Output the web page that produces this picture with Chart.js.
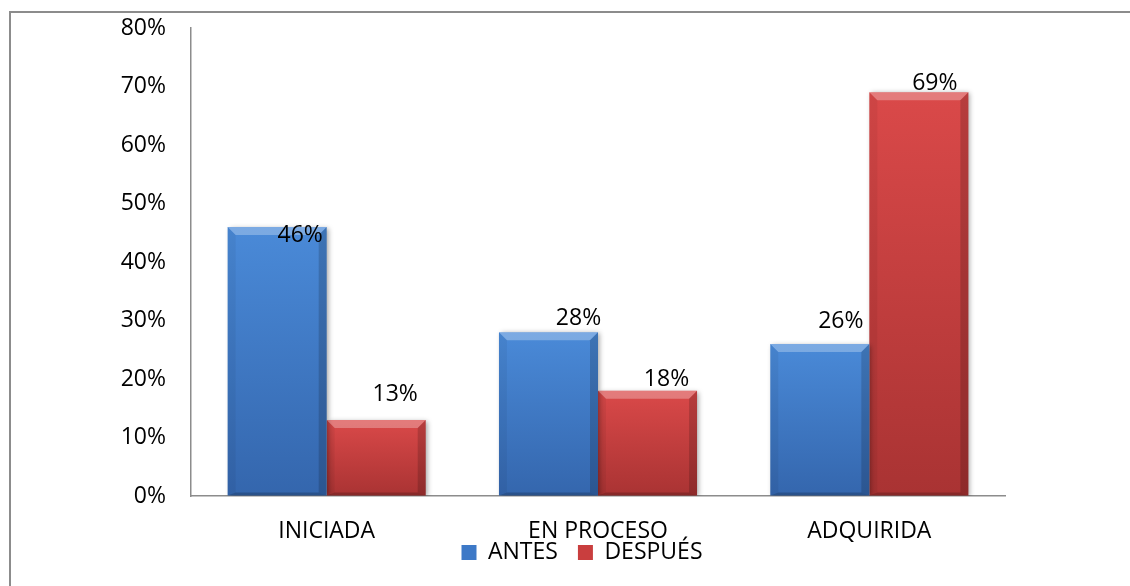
<!DOCTYPE html>
<html>
<head>
<meta charset="utf-8">
<script src="https://cdn.jsdelivr.net/npm/chart.js@4"></script>
<style>
  html, body { margin: 0; padding: 0; background: #fff; overflow: hidden; }
  #marco { position: absolute; left: 9px; top: 11px; width: 1300px; height: 800px;
           border-top: 2px solid #8c8c8c; border-left: 2px solid #8c8c8c; }
  #caja { position: absolute; left: 0; top: 0; width: 1130px; height: 586px; }
</style>
</head>
<body>
<div id="marco"></div>
<div id="caja"><canvas id="barChart"></canvas></div>
<script>
// Datos del gráfico
const categorias = ['INICIADA', 'EN PROCESO', 'ADQUIRIDA'];
const antes = [46, 28, 26];
const despues = [13, 18, 69];
const yMax = 80;
const yPaso = 10;

// colores: [arriba, abajo] del degradado, y color sólido para la leyenda
const azul = ['#4a8ad8', '#3466ad'];
const rojo = ['#da4949', '#a93333'];
const solidos = ['#3d79c7', '#c93e3e'];

// posición manual de las etiquetas (como en Excel): [dx, dy] respecto al tope de la barra
const ajusteEtiquetas = [
  [[23, 15], [30, -7], [21, -16]],
  [[19, -19], [19, -5], [16, -2]]
];

const fuente = "'Open Sans', 'Noto Sans', sans-serif";
const tam = 23;

function relleno(colores) {
  return (c) => {
    const esc = c.chart.scales.y;
    if (c.type !== 'data' || !esc || c.raw == null) return colores[0];
    const arriba = esc.getPixelForValue(c.raw);
    const base = esc.getPixelForValue(0);
    if (!isFinite(arriba) || !isFinite(base) || arriba === base) return colores[0];
    const g = c.chart.ctx.createLinearGradient(0, arriba, 0, base);
    g.addColorStop(0, colores[0]);
    g.addColorStop(1, colores[1]);
    return g;
  };
}

function poligono(c, pts, color) {
  c.beginPath();
  c.moveTo(pts[0][0], pts[0][1]);
  for (let i = 1; i < pts.length; i++) c.lineTo(pts[i][0], pts[i][1]);
  c.closePath();
  c.fillStyle = color;
  c.fill();
}

// sombra + bisel tipo Excel
const bisel = {
  id: 'bisel',
  beforeDatasetsDraw(chart) {
    const c = chart.ctx;
    c.save();
    c.shadowColor = 'rgba(0,0,0,0.35)';
    c.shadowBlur = 5;
    c.shadowOffsetX = 2;
    c.shadowOffsetY = 1;
  },
  afterDatasetsDraw(chart) {
    const c = chart.ctx;
    c.restore();
    chart.data.datasets.forEach((ds, i) => {
      chart.getDatasetMeta(i).data.forEach((bar) => {
        const { x, y, base, width } = bar.getProps(['x', 'y', 'base', 'width'], true);
        const l = x - width / 2, r = x + width / 2, b = 8;
        c.save();
        poligono(c, [[l, y], [r, y], [r - b, y + b], [l + b, y + b]], 'rgba(255,255,255,0.28)');
        poligono(c, [[l, y], [l + b, y + b], [l + b, base - 3], [l, base]], 'rgba(0,0,0,0.05)');
        poligono(c, [[r, y], [r, base], [r - b, base - 3], [r - b, y + b]], 'rgba(0,0,0,0.16)');
        poligono(c, [[l, base], [l + b, base - 3], [r - b, base - 3], [r, base]], 'rgba(0,0,0,0.2)');
        c.restore();
      });
    });
  }
};

// etiquetas de valor
const etiquetas = {
  id: 'etiquetas',
  afterDatasetsDraw(chart) {
    const c = chart.ctx;
    c.save();
    c.font = tam + 'px ' + fuente;
    c.fillStyle = '#000';
    c.textAlign = 'center';
    c.textBaseline = 'alphabetic';
    chart.data.datasets.forEach((ds, i) => {
      chart.getDatasetMeta(i).data.forEach((bar, j) => {
        const aj = ajusteEtiquetas[i][j];
        c.fillText(ds.data[j] + '%', bar.x + aj[0], bar.y + aj[1]);
      });
    });
    c.restore();
  }
};

// la leyenda de Excel queda montada sobre las etiquetas del eje X
const moverLeyenda = {
  id: 'moverLeyenda',
  afterLayout(chart) {
    const lg = chart.legend;
    if (!lg) return;
    const dx = -16, dy = -23;
    lg.left += dx; lg.right += dx;
    lg.top += dy;
    lg.bottom = lg.top + 60;
  }
};

const ctx1 = document.getElementById('barChart').getContext('2d');
new Chart(ctx1, {
  type: 'bar',
  data: {
    labels: categorias,
    datasets: [
      { label: 'ANTES', data: antes, backgroundColor: relleno(azul) },
      { label: 'DESPUÉS', data: despues, backgroundColor: relleno(rojo) }
    ]
  },
  options: {
    responsive: true,
    maintainAspectRatio: false,
    animation: false,
    barPercentage: 1,
    categoryPercentage: 0.73,
    layout: { padding: { top: 28, right: 125, left: 0, bottom: 12 } },
    scales: {
      x: {
        grid: { display: true, drawOnChartArea: false, drawTicks: false },
        border: { display: true, color: '#8c8c8c', width: 1.5 },
        ticks: { color: '#000', font: { family: fuente, size: tam }, padding: 22, maxRotation: 0 },
        afterFit(s) { s.height = 48; }
      },
      y: {
        min: 0,
        max: yMax,
        grid: { display: true, drawOnChartArea: false, drawTicks: true, tickLength: 25, tickColor: 'transparent' },
        border: { display: true, color: '#8c8c8c', width: 1.5 },
        ticks: {
          stepSize: yPaso,
          color: '#000',
          padding: 0,
          font: { family: fuente, size: tam },
          callback: (v) => v + '%'
        },
        afterFit(s) { s.width = 191; }
      }
    },
    plugins: {
      tooltip: { enabled: false },
      legend: {
        position: 'bottom',
        fullSize: false,
        maxHeight: 30,
        labels: {
          boxWidth: 15,
          boxHeight: 15,
          padding: 20,
          color: '#000',
          font: { family: fuente, size: tam },
          generateLabels: (chart) =>
            Chart.defaults.plugins.legend.labels.generateLabels(chart).map((it, i) => ({
              ...it, fillStyle: solidos[i], strokeStyle: solidos[i], lineWidth: 0
            }))
        }
      }
    }
  },
  plugins: [bisel, etiquetas, moverLeyenda]
});
</script>
</body>
</html>
